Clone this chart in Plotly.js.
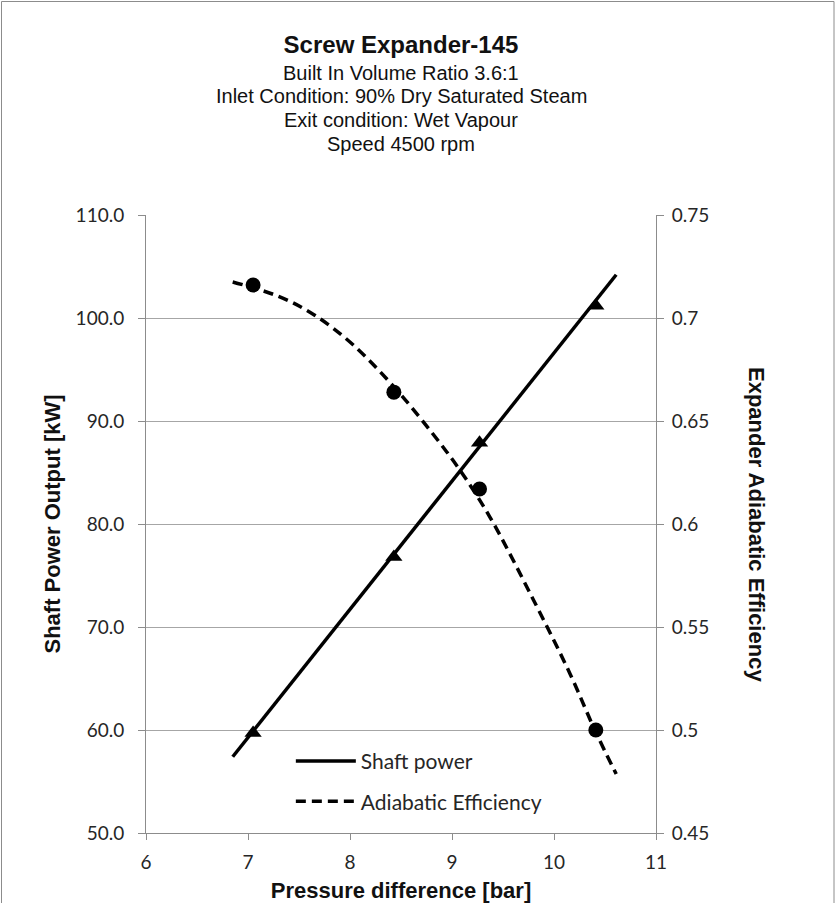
<!DOCTYPE html>
<html>
<head>
<meta charset="utf-8">
<script src="https://cdn.plot.ly/plotly-3.0.1.min.js"></script>
<style>html,body{margin:0;padding:0;background:#fff;}#chart{width:836px;height:903px;}</style>
</head>
<body>
<div id="chart"></div>
<script>
// Measured points
var pressure = [7.05, 8.43, 9.27, 10.41];
var shaftPower = [59.7, 76.8, 87.9, 101.2];
var efficiency = [0.716, 0.664, 0.617, 0.5];

// Trend lines
var powerTrendX = [6.85, 10.61];
var powerTrendY = [57.4, 104.2];
var effTrendX = [6.85, 7.3, 7.65, 8.03, 8.45, 8.8, 9.08, 9.37, 9.8, 10.16, 10.4, 10.61];
var effTrendY = [0.7175, 0.7105, 0.7015, 0.687, 0.6655, 0.6445, 0.626, 0.6035, 0.563, 0.527, 0.5, 0.4786];

// Tick labels
var xTicks = [6, 7, 8, 9, 10, 11];
var leftTicks = [50, 60, 70, 80, 90, 100, 110];
var leftTickText = ["50.0", "60.0", "70.0", "80.0", "90.0", "100.0", "110.0"];
var rightTicks = [0.45, 0.5, 0.55, 0.6, 0.65, 0.7, 0.75];
var rightTickText = ["0.45", "0.5", "0.55", "0.6", "0.65", "0.7", "0.75"];

var subtitles = ["Built In Volume Ratio 3.6:1", "Inlet Condition: 90% Dry Saturated Steam", "Exit condition: Wet Vapour", "Speed 4500 rpm"];

var tickFont = {family: "Lato, 'Open Sans', sans-serif", size: 19, color: "#262626"};
var arial = "'Liberation Sans', Arial, sans-serif";
var titleCx = 0.5;

var traces = [
  {x: powerTrendX, y: powerTrendY, mode: "lines", name: "Shaft power", legendgroup: "a",
   line: {color: "#000", width: 3.5}, yaxis: "y", hoverinfo: "skip"},
  {x: effTrendX, y: effTrendY, mode: "lines", name: "Adiabatic Efficiency", legendgroup: "b",
   line: {color: "#000", width: 3.5, dash: "10px,6px", shape: "spline"}, yaxis: "y2", hoverinfo: "skip"},
  {x: pressure, y: shaftPower, mode: "markers", name: "Shaft power data", showlegend: false,
   marker: {symbol: "triangle-up", size: 15, color: "#000"}, yaxis: "y"},
  {x: pressure, y: efficiency, mode: "markers", name: "Efficiency data", showlegend: false,
   marker: {symbol: "circle", size: 15, color: "#000"}, yaxis: "y2"}
];

var annotations = subtitles.map(function (t, i) {
  return {text: t, xref: "paper", yref: "paper", x: titleCx, y: (833 - (73 + i * 23.5)) / 618,
    showarrow: false, xanchor: "center", yanchor: "middle",
    font: {family: arial, size: 20, color: "#111"}};
});
annotations.push({text: "<b>Expander Adiabatic Efficiency</b>", xref: "paper", yref: "paper",
  x: (757 - 146) / 510, y: 0.5, textangle: 90, showarrow: false, xanchor: "center", yanchor: "middle",
  font: {family: arial, size: 22, color: "#111"}});

var layout = {
  width: 836, height: 903,
  margin: {l: 146, r: 180, t: 215, b: 70},
  paper_bgcolor: "#fff", plot_bgcolor: "#fff",
  showlegend: true,
  title: {text: "<b>Screw Expander-145</b>", x: titleCx, xref: "paper", xanchor: "center",
    y: 1 - 45 / 903, yref: "container", yanchor: "middle",
    font: {family: arial, size: 24, color: "#111"}},
  xaxis: {range: [6, 11], tickvals: xTicks, ticktext: xTicks.map(String),
    showgrid: false, zeroline: false, showline: true, linecolor: "#8c8c8c", linewidth: 1,
    ticks: "outside", ticklen: 6, tickcolor: "#8c8c8c", tickfont: tickFont, ticklabelstandoff: 6,
    title: {text: "<b>Pressure difference [bar]</b>", font: {family: arial, size: 22, color: "#111"}, standoff: 10}},
  yaxis: {range: [50, 110], tickvals: leftTicks, ticktext: leftTickText,
    showgrid: true, gridcolor: "#a6a6a6", gridwidth: 1, zeroline: false,
    showline: true, linecolor: "#8c8c8c", linewidth: 1,
    ticks: "outside", ticklen: 7, tickcolor: "#8c8c8c", tickfont: tickFont, ticklabelstandoff: 10,
    title: {text: "<b>Shaft Power Output [kW]</b>", font: {family: arial, size: 22, color: "#111"}, standoff: 8}},
  yaxis2: {range: [0.45, 0.75], tickvals: rightTicks, ticktext: rightTickText, overlaying: "y", side: "right",
    showgrid: false, zeroline: false, showline: true, linecolor: "#8c8c8c", linewidth: 1,
    ticks: "outside", ticklen: 7, tickcolor: "#8c8c8c", tickfont: tickFont, ticklabelstandoff: 4},
  legend: {x: 0.284, y: 0.149, xanchor: "left", yanchor: "top", bgcolor: "rgba(0,0,0,0)", itemwidth: 60,
    tracegroupgap: 10, font: {family: "Lato, 'Open Sans', sans-serif", size: 21, color: "#262626"}},
  annotations: annotations,
  shapes: [{type: "rect", xref: "paper", yref: "paper",
    x0: (1.5 - 146) / 510, x1: (834 - 146) / 510, y0: (833 - 920) / 618, y1: (833 - 1.5) / 618,
    line: {color: "#8c8c8c", width: 1}, fillcolor: "rgba(0,0,0,0)", layer: "below"}]
};

Plotly.newPlot("chart", traces, layout, {displayModeBar: false, staticPlot: true});
</script>
</body>
</html>
